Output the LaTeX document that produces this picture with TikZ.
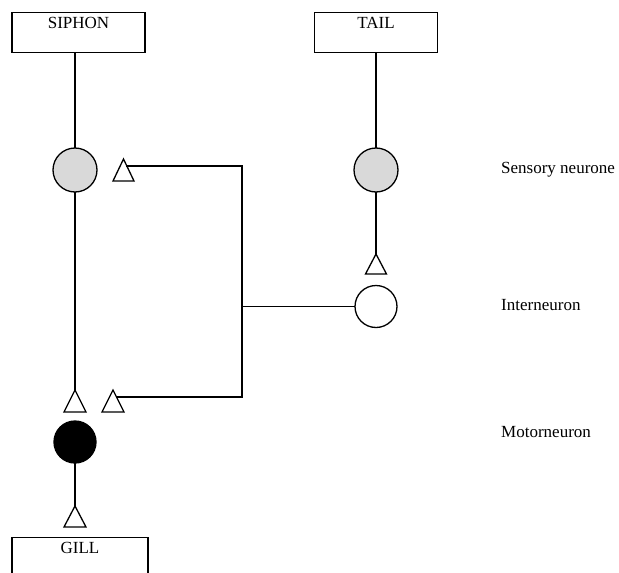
\documentclass[tikz,border=0pt]{standalone}
\usepackage{fontspec}
\setmainfont{Liberation Serif}
\begin{document}
\begin{tikzpicture}[x=1pt,y=-1pt,
  every node/.style={font=\fontsize{17}{20}\selectfont},
  wire/.style={line width=1.3pt,line cap=rect},
  organ/.style={draw,line width=1.3pt,minimum height=40pt,inner xsep=0pt,inner ysep=4pt,text height=12pt,text depth=20pt,anchor=north},
  cell/.style={draw,circle,line width=1.3pt,inner sep=0pt},
  syn/.style={draw,line width=1.3pt,fill=white,line join=miter},
  lbl/.style={anchor=base west,inner sep=0pt}]
\clip (0,0) rectangle (619,573);
\fill[white] (0,0) rectangle (619,573);
% organs
\node[organ,minimum width=133pt] (siphon) at (78.5,12) {SIPHON};
\node[organ,minimum width=123pt] (tail) at (376,12) {TAIL};
\node[organ,minimum width=136pt] (gill) at (80,537) {GILL};
% cells
\node[cell,fill=black!15,minimum size=44pt] (s1) at (75,170) {};
\node[cell,fill=black!15,minimum size=44pt] (s2) at (376,170) {};
\node[cell,fill=white,minimum size=42pt] (inter) at (376,306.5) {};
\node[cell,fill=black,minimum size=42pt] (motor) at (75,442) {};
% synapse triangles (apex coordinates)
\coordinate (m1) at (75,390);
\coordinate (m2) at (113,390);
\coordinate (f1) at (123.5,159);
\coordinate (tt) at (376,254);
\coordinate (gt) at (75,506);
\draw[syn] (m1) -- ++(11,22) -- ++(-22,0) -- cycle;
\draw[syn] (m2) -- ++(11,22) -- ++(-22,0) -- cycle;
\draw[syn] (f1) -- ++(10.5,22) -- ++(-21,0) -- cycle;
\draw[syn] (tt) -- ++(10.5,20) -- ++(-21,0) -- cycle;
\draw[syn] (gt) -- ++(11,21) -- ++(-22,0) -- cycle;
% attachment points
\coordinate (f1r) at (126.8,166);
\coordinate (m2r) at (116.5,397);
\coordinate (c1) at (242,166);
\coordinate (c2) at (242,397);
\coordinate (c3) at (242,306.5);
% connectors
\draw[wire] (siphon.south -| s1) -- (s1);
\draw[wire] (s1) -- (m1);
\draw[wire] (tail.south -| s2) -- (s2);
\draw[wire] (s2) -- (tt);
\draw[wire] (f1r) -- (c1) -- (c2) -- (m2r);
\draw[wire] (c3) -- (inter);
\draw[wire] (motor) -- (gt);
% labels
\node[lbl] (lsens) at (501,173) {Sensory neurone};
\node[lbl] (linter) at (501,310) {Interneuron};
\node[lbl] (lmotor) at (501,437) {Motorneuron};
\end{tikzpicture}
\end{document}
